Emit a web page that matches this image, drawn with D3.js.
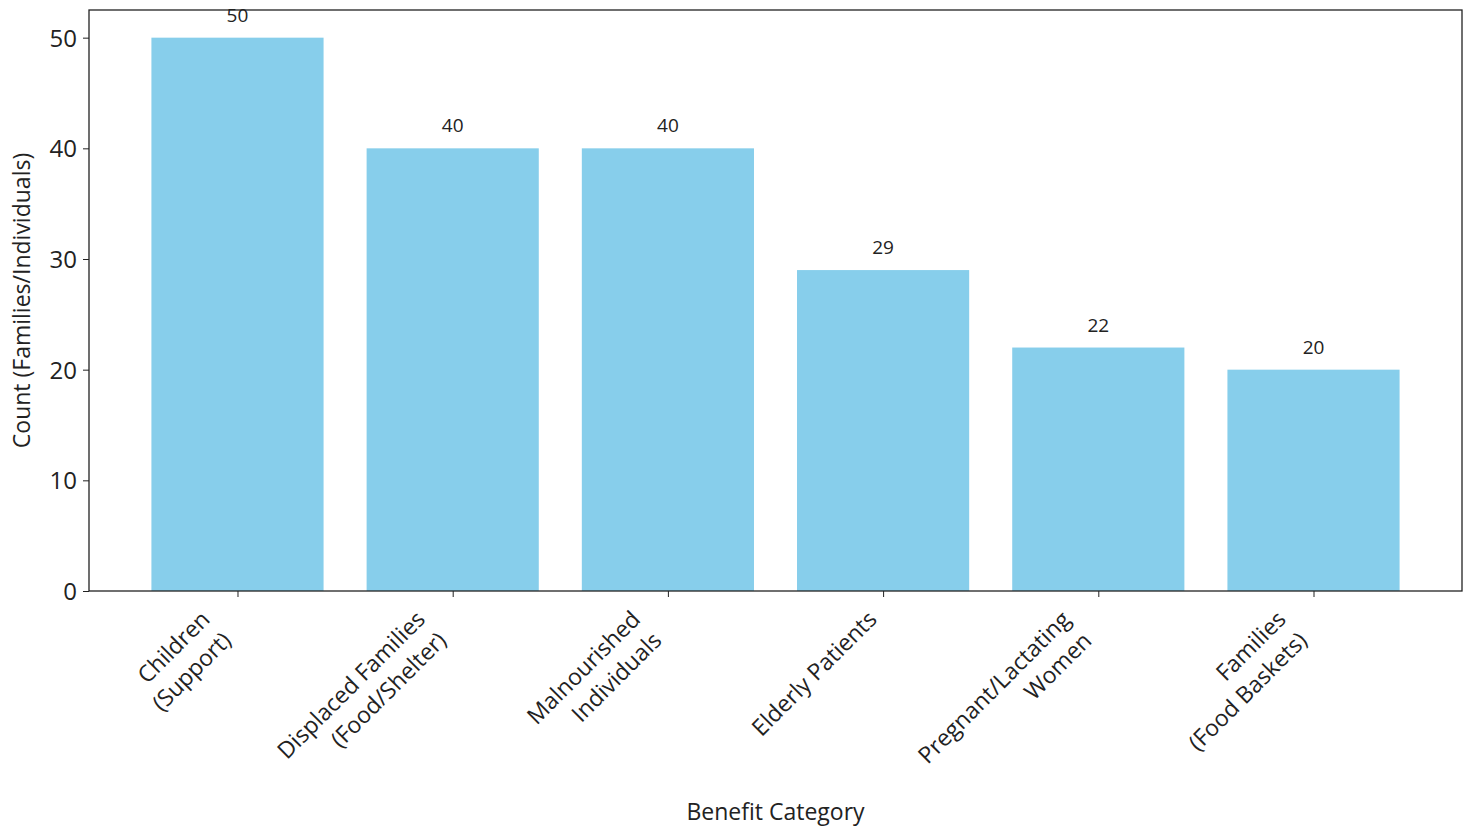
<!DOCTYPE html>
<html><head><meta charset="utf-8">
<script src="https://cdn.jsdelivr.net/npm/d3@7"></script>
<style>body{margin:0;background:#fff;} svg{display:block;} text{font-family:"Open Sans",sans-serif;fill:#222;}</style>
</head><body>
<svg id="c" width="1470" height="829"></svg>
<script>
const categories = ["Children\n(Support)", "Displaced Families\n(Food/Shelter)", "Malnourished\nIndividuals", "Elderly Patients", "Pregnant/Lactating\nWomen", "Families\n(Food Baskets)"];
const values = [50, 40, 40, 29, 22, 20];
const yTicks = [0, 10, 20, 30, 40, 50];

const svg = d3.select("#c");
const L = 89, R = 1462, T = 10, B = 591;
const n = categories.length;
const x = d3.scaleLinear().domain([-0.69, n - 1 + 0.69]).range([L, R]);
const y = d3.scaleLinear().domain([0, 52.5]).range([B, T]);
const bw = 0.8;

svg.append("g").selectAll("rect").data(values).join("rect")
  .attr("x", (d, i) => x(i - bw / 2)).attr("width", (d, i) => x(i + bw / 2) - x(i - bw / 2))
  .attr("y", d => y(d)).attr("height", d => y(0) - y(d)).attr("fill", "#87ceeb");

svg.append("g").selectAll("text").data(values).join("text")
  .attr("x", (d, i) => x(i)).attr("y", d => y(d) - 16)
  .attr("text-anchor", "middle").attr("font-size", 19).text(d => d);

// frame
svg.append("rect").attr("x", L).attr("y", T).attr("width", R - L).attr("height", B - T)
  .attr("fill", "none").attr("stroke", "#222").attr("stroke-width", 1.3);

// y axis
const yAxis = svg.append("g").attr("transform", `translate(${L},0)`)
  .call(d3.axisLeft(y).tickValues(yTicks).tickSize(6).tickPadding(6));
yAxis.select(".domain").remove();
yAxis.selectAll("text").attr("font-size", 24).style("font-family", "Open Sans").attr("fill", "#222").attr("dy", "0.35em");
yAxis.selectAll("line").attr("stroke", "#222");

// x axis ticks
const xAxis = svg.append("g").attr("transform", `translate(0,${B})`)
  .call(d3.axisBottom(x).tickValues(d3.range(n)).tickSize(6).tickFormat(""));
xAxis.select(".domain").remove();
xAxis.selectAll("line").attr("stroke", "#222");

// rotated labels
const lh = 30;
categories.forEach((c, i) => {
  const lines = c.split("\n");
  const g = svg.append("g");
  const t = g.append("text").attr("font-size", 23).attr("text-anchor", "end");
  lines.forEach((ln, k) => t.append("tspan").attr("x", 0).attr("y", k * lh).text(ln));
  t.attr("transform", "rotate(-45)");
  const bb = g.node().getBBox();
  const tx = x(i) - (bb.x + bb.width);
  const ty = B + 12 - bb.y;
  g.attr("transform", `translate(${tx},${ty})`);
});

svg.append("text").attr("x", (L + R) / 2).attr("y", 820).attr("text-anchor", "middle")
  .attr("font-size", 23).text("Benefit Category");
svg.append("text").attr("transform", `translate(30,${(T + B) / 2}) rotate(-90)`)
  .attr("text-anchor", "middle").attr("font-size", 23).text("Count (Families/Individuals)");
</script>
</body></html>
